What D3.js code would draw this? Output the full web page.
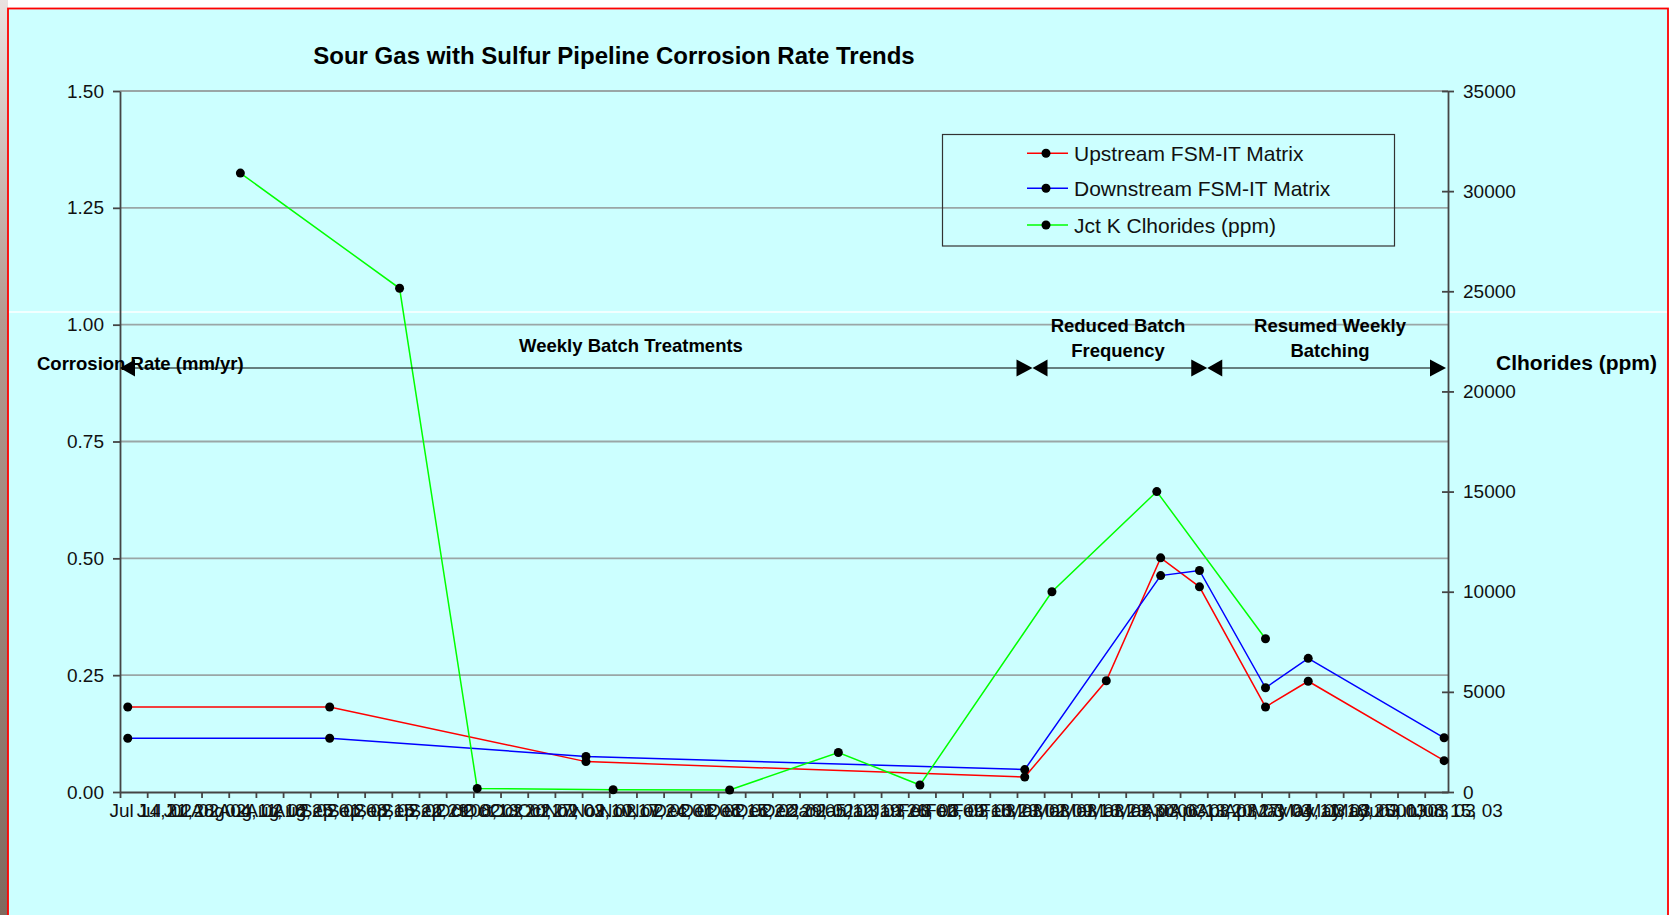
<!DOCTYPE html>
<html>
<head>
<meta charset="utf-8">
<script src="https://cdnjs.cloudflare.com/ajax/libs/d3/7.8.5/d3.min.js"></script>
<style>
  body { margin: 0; overflow: hidden; background: #ffffff; }
  text { font-family: Arial, "Liberation Sans", sans-serif; }
</style>
</head>
<body>
<div id="chart"></div>
<script>
// data
var upDates = ["2002-07-16", "2002-09-06", "2002-11-11", "2003-03-04", "2003-03-25", "2003-04-08", "2003-04-18", "2003-05-05", "2003-05-16", "2003-06-20"];
var upValues = [0.182, 0.182, 0.065, 0.032, 0.238, 0.501, 0.439, 0.182, 0.237, 0.067];

var downDates = ["2002-07-16", "2002-09-06", "2002-11-11", "2003-03-04", "2003-04-08", "2003-04-18", "2003-05-05", "2003-05-16", "2003-06-20"];
var downValues = [0.115, 0.115, 0.076, 0.048, 0.463, 0.474, 0.223, 0.286, 0.116];

var clDates = ["2002-08-14", "2002-09-24", "2002-10-14", "2002-11-18", "2002-12-18", "2003-01-15", "2003-02-05", "2003-03-11", "2003-04-07", "2003-05-05"];
var clValues = [30900, 25150, 180, 115, 100, 1975, 350, 10000, 15000, 7650];

var seriesNames = ["Upstream FSM-IT Matrix", "Downstream FSM-IT Matrix", "Jct K Clhorides (ppm)"];
var seriesColors = ["#ff0000", "#0000ff", "#00ff00"];

var leftTicks = [0, 0.25, 0.5, 0.75, 1.0, 1.25, 1.5];
var rightTicks = [0, 5000, 10000, 15000, 20000, 25000, 30000, 35000];

var axisStart = "2002-07-14";
var axisEnd = "2003-06-21";

// treatment periods (arrows)
var periodStarts = ["2002-07-14", "2003-03-06", "2003-04-20"];
var periodEnds = ["2003-03-06", "2003-04-20", "2003-06-21"];

var svgWidth = 1669;
var svgHeight = 915;

var margin = {
  top: 91,
  right: 221,
  bottom: 123,
  left: 120
};

var height = svgHeight - margin.top - margin.bottom;
var width = svgWidth - margin.left - margin.right;

var parseDate = d3.timeParse("%Y-%m-%d");

var svg = d3.select("#chart")
  .append("svg")
  .attr("width", svgWidth)
  .attr("height", svgHeight);

// slide background
var defs = svg.append("defs");
var grad = defs.append("linearGradient")
  .attr("id", "edge")
  .attr("x1", 0).attr("y1", 0).attr("x2", 0).attr("y2", 1);
grad.append("stop").attr("offset", "0%").attr("stop-color", "#e9e2e0");
grad.append("stop").attr("offset", "35%").attr("stop-color", "#b49a90");
grad.append("stop").attr("offset", "100%").attr("stop-color", "#7f6a5e");

svg.append("rect")
  .attr("x", 0).attr("y", 0)
  .attr("width", 8).attr("height", svgHeight)
  .attr("fill", "url(#edge)");

svg.append("rect")
  .attr("x", 8).attr("y", 8.5)
  .attr("width", 1660).attr("height", svgHeight + 20)
  .attr("fill", "#ccffff")
  .attr("stroke", "#ff0000")
  .attr("stroke-width", 1.8);

svg.append("line")
  .attr("x1", 9).attr("x2", 1667)
  .attr("y1", 312).attr("y2", 312)
  .attr("stroke", "#ffffff")
  .attr("stroke-width", 1.5);

var chartGroup = svg.append("g")
  .attr("transform", `translate(${margin.left}, ${margin.top})`);

// scales
var xScale = d3.scaleTime()
  .domain([parseDate(axisStart), parseDate(axisEnd)])
  .range([0, width]);

var yLeft = d3.scaleLinear()
  .domain([0, 1.5])
  .range([height, 0]);

var yRight = d3.scaleLinear()
  .domain([0, 35000])
  .range([height, 0]);

// gridlines
chartGroup.selectAll(".grid")
  .data(leftTicks.filter(d => d > 0))
  .enter()
  .append("line")
  .attr("class", "grid")
  .attr("x1", 0)
  .attr("x2", width)
  .attr("y1", d => yLeft(d))
  .attr("y2", d => yLeft(d))
  .attr("stroke", "#9aa6a6")
  .attr("stroke-width", 1.8);

// axes
var weeks = d3.timeWeek.range(parseDate(axisStart), parseDate("2003-06-16"));
var fmt = d3.timeFormat("%b %d, %y");

var bottomAxis = d3.axisBottom(xScale)
  .tickValues(weeks)
  .tickFormat(fmt)
  .tickSizeInner(6)
  .tickSizeOuter(0)
  .tickPadding(5.5);

var leftAxis = d3.axisLeft(yLeft)
  .tickValues(leftTicks)
  .tickFormat(d3.format(".2f"))
  .tickSizeInner(7)
  .tickSizeOuter(0)
  .tickPadding(9);

var rightAxis = d3.axisRight(yRight)
  .tickValues(rightTicks)
  .tickFormat(d3.format("d"))
  .tickSizeInner(6)
  .tickSizeOuter(0)
  .tickPadding(9);

var xg = chartGroup.append("g")
  .attr("transform", `translate(0, ${height})`)
  .call(bottomAxis);
xg.selectAll("text")
  .attr("text-anchor", "start")
  .attr("x", -11);

chartGroup.append("g")
  .call(leftAxis);

var rg = chartGroup.append("g")
  .attr("transform", `translate(${width}, 0)`)
  .call(rightAxis);
rg.selectAll(".tick line").attr("x1", -6);

chartGroup.selectAll(".domain, .tick line")
  .attr("stroke", "#454545")
  .attr("stroke-width", 1.8);
chartGroup.selectAll(".tick text")
  .attr("fill", "#111")
  .style("font-size", "19px")
  .style("font-family", "Arial, 'Liberation Sans', sans-serif");

// lines + markers
function drawSeries(dates, values, scale, color) {
  var pts = dates.map((d, i) => ({ date: parseDate(d), value: values[i] }));
  var line = d3.line()
    .x(d => xScale(d.date))
    .y(d => scale(d.value));
  chartGroup.append("path")
    .datum(pts)
    .attr("d", line)
    .attr("fill", "none")
    .attr("stroke", color)
    .attr("stroke-width", 1.5);
  chartGroup.selectAll(null)
    .data(pts)
    .enter()
    .append("circle")
    .attr("cx", d => xScale(d.date))
    .attr("cy", d => scale(d.value))
    .attr("r", 4.5)
    .attr("fill", "#000");
}

drawSeries(upDates, upValues, yLeft, seriesColors[0]);
drawSeries(downDates, downValues, yLeft, seriesColors[1]);
drawSeries(clDates, clValues, yRight, seriesColors[2]);

// title
svg.append("text")
  .attr("x", 614)
  .attr("y", 64)
  .attr("text-anchor", "middle")
  .style("font-size", "24px")
  .style("font-weight", "bold")
  .text("Sour Gas with Sulfur Pipeline Corrosion Rate Trends");

// period arrows
var arrowY = 368 - margin.top;
periodStarts.forEach(function(s, i) {
  var x1 = xScale(parseDate(s));
  var x2 = xScale(parseDate(periodEnds[i]));
  if (i == periodStarts.length - 1) x2 -= 2;
  chartGroup.append("line")
    .attr("x1", x1 + 8).attr("x2", x2 - 8)
    .attr("y1", arrowY).attr("y2", arrowY)
    .attr("stroke", "#000")
    .attr("stroke-width", 1.2);
  chartGroup.append("path")
    .attr("d", `M${x1},${arrowY} L${x1 + 15},${arrowY - 8.5} L${x1 + 15},${arrowY + 8.5} Z`)
    .attr("fill", "#000");
  chartGroup.append("path")
    .attr("d", `M${x2},${arrowY} L${x2 - 16},${arrowY - 8.5} L${x2 - 16},${arrowY + 8.5} Z`)
    .attr("fill", "#000");
});

var notes = svg.append("g")
  .style("font-size", "18.5px")
  .style("font-weight", "bold")
  .attr("fill", "#000");

notes.append("text").attr("x", 631).attr("y", 352).attr("text-anchor", "middle").text("Weekly Batch Treatments");
notes.append("text").attr("x", 1118).attr("y", 332).attr("text-anchor", "middle").text("Reduced Batch");
notes.append("text").attr("x", 1118).attr("y", 357).attr("text-anchor", "middle").text("Frequency");
notes.append("text").attr("x", 1330).attr("y", 332).attr("text-anchor", "middle").text("Resumed Weekly");
notes.append("text").attr("x", 1330).attr("y", 357).attr("text-anchor", "middle").text("Batching");
notes.append("text").attr("x", 37).attr("y", 370).text("Corrosion Rate (mm/yr)");
notes.append("text").attr("x", 1496).attr("y", 370).style("font-size", "21px").text("Clhorides (ppm)");

// legend
var legend = svg.append("g");
legend.append("rect")
  .attr("x", 942.5).attr("y", 134.5)
  .attr("width", 452).attr("height", 111.5)
  .attr("fill", "none")
  .attr("stroke", "#333")
  .attr("stroke-width", 1.2);

var rows = [153.3, 188.3, 225];
seriesNames.forEach(function(name, i) {
  legend.append("line")
    .attr("x1", 1027).attr("x2", 1068)
    .attr("y1", rows[i]).attr("y2", rows[i])
    .attr("stroke", seriesColors[i])
    .attr("stroke-width", 1.5);
  legend.append("circle")
    .attr("cx", 1046).attr("cy", rows[i])
    .attr("r", 4.5)
    .attr("fill", "#000");
  legend.append("text")
    .attr("x", 1074)
    .attr("y", rows[i] + 7.5)
    .style("font-size", "21px")
    .attr("fill", "#111")
    .text(name);
});
</script>
</body>
</html>
